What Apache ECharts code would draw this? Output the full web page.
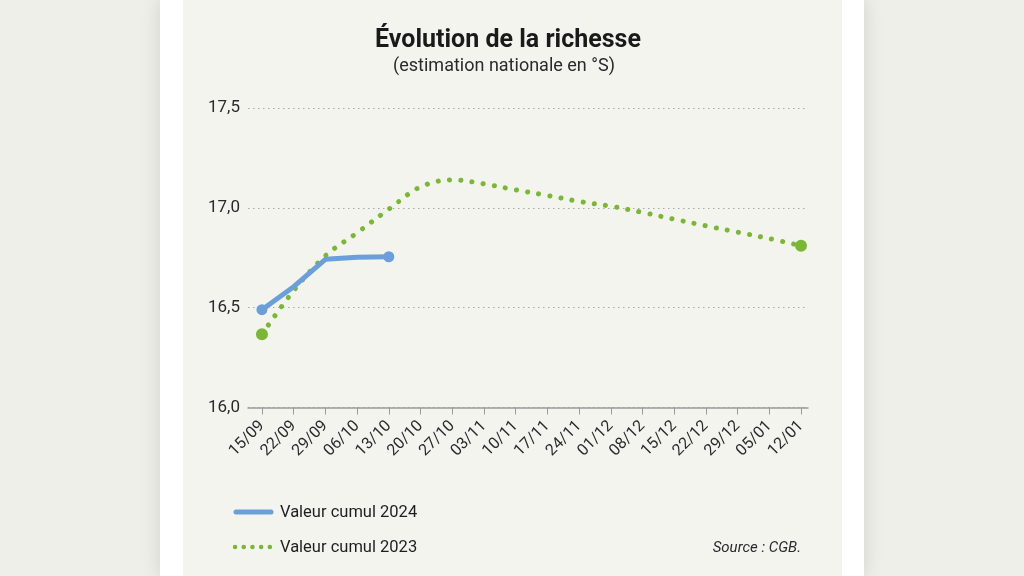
<!DOCTYPE html>
<html>
<head>
<meta charset="utf-8">
<script src="https://cdn.jsdelivr.net/npm/echarts@6/dist/echarts.min.js"></script>
<style>
  html, body { margin:0; padding:0; width:1024px; height:576px; overflow:hidden; background:#efefea; }
  #white { position:absolute; left:160px; top:0; width:704px; height:576px; background:#ffffff; box-shadow:0 0 18px rgba(0,0,0,0.13); }
  #panel { position:absolute; left:183px; top:0; width:659px; height:576px; background:#f4f4ef; }
  #chart { position:absolute; left:0; top:0; width:1024px; height:576px; }
</style>
</head>
<body>
<div id="white"></div>
<div id="panel"></div>
<div id="chart"></div>
<script>
// ---- data ----
const weekLabels = ['15/09','22/09','29/09','06/10','13/10','20/10','27/10','03/11','10/11','17/11','24/11','01/12','08/12','15/12','22/12','29/12','05/01','12/01'];
const values2024 = [16.49, 16.605, 16.742, 16.752, 16.755];
const values2023 = [16.367, 16.585, 16.76, 16.875, 16.993, 17.105, 17.14, 17.12, 17.09, 17.062, 17.032, 17.008, 16.977, 16.943, 16.91, 16.878, 16.846, 16.81];
const yTicks = [16.0, 16.5, 17.0, 17.5];
const seriesNames = ['Valeur cumul 2024', 'Valeur cumul 2023'];
const titleText = 'Évolution de la richesse';
const subtitleText = '(estimation nationale en °S)';
const sourceText = 'Source : CGB.';

const FONT = '"Roboto", "DejaVu Sans", sans-serif';
const BLUE = '#6a9fdc';
const GREEN = '#7ab833';

const toPairs = arr => arr.map((v, i) => [i, v]);
const endSym = (n, size) => (val, p) => (p.dataIndex === 0 || p.dataIndex === n - 1) ? size : 0;
const tickIdx = weekLabels.map((_, i) => i);

const chart = echarts.init(document.getElementById('chart'), null, {renderer: 'canvas'});
chart.setOption({
  backgroundColor: 'transparent',
  animation: false,
  title: [
    {
      text: titleText,
      left: 508,
      textAlign: 'center',
      top: 28,
      padding: 0,
      textStyle: { fontFamily: FONT, fontSize: 25, fontWeight: 'bold', color: '#1a1a1a' }
    },
    {
      text: subtitleText,
      left: 504,
      textAlign: 'center',
      top: 57,
      padding: 0,
      textStyle: { fontFamily: FONT, fontSize: 18, fontWeight: 'normal', color: '#2a2a2a' }
    }
  ],
  grid: { left: 248, right: 216, top: 108, bottom: 168.5 },
  xAxis: {
    type: 'value',
    min: -0.44,
    max: 17.22,
    splitLine: { show: false },
    axisLine: { show: true, onZero: false, lineStyle: { color: '#9a9a9a', width: 1.5 } },
    axisTick: { show: true, customValues: tickIdx, length: 7, lineStyle: { color: '#9a9a9a', width: 1 } },
    axisLabel: {
      customValues: tickIdx,
      rotate: 45,
      margin: 16,
      fontFamily: FONT,
      fontSize: 16,
      color: '#2a2a2a',
      formatter: v => weekLabels[Math.round(v)]
    }
  },
  yAxis: {
    type: 'value',
    min: yTicks[0],
    max: yTicks[yTicks.length - 1],
    interval: 0.5,
    axisLine: { show: false },
    axisTick: { show: false },
    splitLine: { show: true, lineStyle: { color: '#a8a8a8', type: [1.5, 3.5], width: 1 } },
    axisLabel: {
      margin: 8,
      fontFamily: FONT,
      fontSize: 17,
      color: '#2a2a2a',
      formatter: v => v.toFixed(1).replace('.', ',')
    }
  },
  series: [
    {
      name: seriesNames[1],
      type: 'line',
      smooth: 0.35,
      data: toPairs(values2023),
      symbol: 'circle',
      showAllSymbol: true,
      symbolSize: endSym(values2023.length, 12),
      itemStyle: { color: GREEN },
      lineStyle: { color: GREEN, width: 5, type: [0.1, 11.2], cap: 'round' },
      z: 2
    },
    {
      name: seriesNames[0],
      type: 'line',
      data: toPairs(values2024),
      symbol: 'circle',
      showAllSymbol: true,
      symbolSize: endSym(values2024.length, 11),
      itemStyle: { color: BLUE },
      lineStyle: { color: BLUE, width: 5, cap: 'round', join: 'round' },
      z: 3
    }
  ],
  graphic: [
    { type: 'line', shape: { x1: 236, y1: 512, x2: 271, y2: 512 }, style: { stroke: BLUE, lineWidth: 5, lineCap: 'round' } },
    { type: 'text', left: 280, top: 504, style: { text: seriesNames[0], font: '16.5px ' + FONT, fill: '#1e1e1e' } },
    { type: 'line', shape: { x1: 235, y1: 547, x2: 272, y2: 547 }, style: { stroke: GREEN, lineWidth: 4.5, lineCap: 'round', lineDash: [0.1, 8.6] } },
    { type: 'text', left: 280, top: 539, style: { text: seriesNames[1], font: '16.5px ' + FONT, fill: '#1e1e1e' } },
    { type: 'text', right: 1024 - 801, top: 541, style: { text: sourceText, font: 'italic 15px ' + FONT, fill: '#2a2a2a', textAlign: 'right' } }
  ]
});
</script>
</body>
</html>
